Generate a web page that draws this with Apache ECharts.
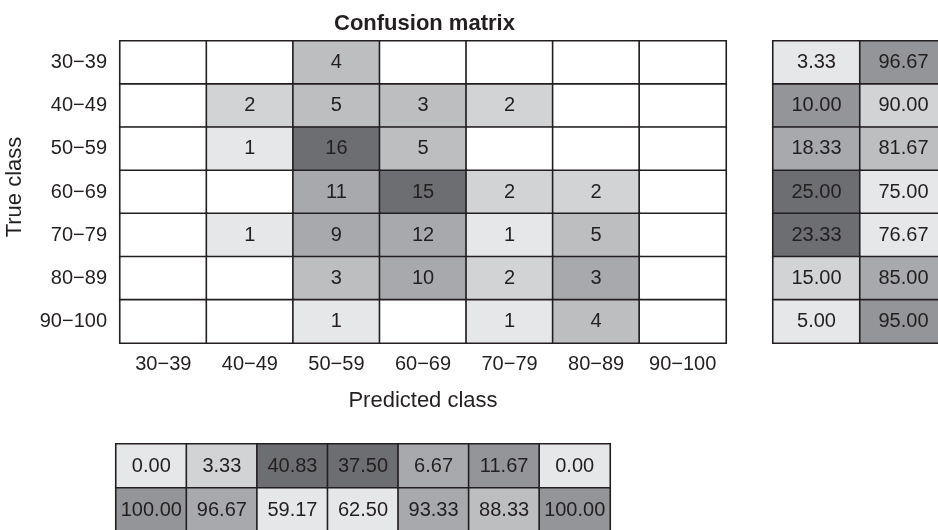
<!DOCTYPE html>
<html>
<head>
<meta charset="utf-8">
<script src="https://cdn.jsdelivr.net/npm/echarts@6/dist/echarts.min.js"></script>
<style>
html,body{margin:0;padding:0;background:#fff;}
#chart{width:938px;height:530px;}
</style>
</head>
<body>
<div id="chart"></div>
<script>
// ---- data ----
var classes = ['30−39','40−49','50−59','60−69','70−79','80−89','90−100'];
// rows = true class, columns = predicted class
var counts = [
  [0,0,4,0,0,0,0],
  [0,2,5,3,2,0,0],
  [0,1,16,5,0,0,0],
  [0,0,11,15,2,2,0],
  [0,1,9,12,1,5,0],
  [0,0,3,10,2,3,0],
  [0,0,1,0,1,4,0]
];
var rowShare = [3.33,10.00,18.33,25.00,23.33,15.00,5.00];
var rowRest  = [96.67,90.00,81.67,75.00,76.67,85.00,95.00];
var colShare = [0.00,3.33,40.83,37.50,6.67,11.67,0.00];
var colRest  = [100.00,96.67,59.17,62.50,93.33,88.33,100.00];

// ---- styles (shade level per cell) ----
var palette = ['#ffffff','#e6e7e8','#d1d3d4','#bcbec0','#a7a9ac','#939598','#6d6e71'];
var countShade = [
  [0,0,3,0,0,0,0],
  [0,2,3,3,2,0,0],
  [0,1,6,3,0,0,0],
  [0,0,4,6,2,2,0],
  [0,1,4,4,1,3,0],
  [0,0,3,4,2,4,0],
  [0,0,1,0,1,3,0]
];
var rowShade = [[1,5],[5,2],[4,3],[6,1],[6,1],[2,4],[1,5]];
var colShade = [[1,2,6,6,4,5,1],[5,4,1,1,4,3,5]];

var FONT = '"Liberation Sans", Arial, Helvetica, sans-serif';
var INK = '#231f20';

var mainData = [];
counts.forEach(function(row, r){
  row.forEach(function(v, c){
    mainData.push({value:[c, r, v], itemStyle:{color: palette[countShade[r][c]]}});
  });
});
var rightData = [];
rowShare.forEach(function(v, r){
  rightData.push({value:[0, r, v], itemStyle:{color: palette[rowShade[r][0]]}});
  rightData.push({value:[1, r, rowRest[r]], itemStyle:{color: palette[rowShade[r][1]]}});
});
var bottomData = [];
colShare.forEach(function(v, c){
  bottomData.push({value:[c, 0, v], itemStyle:{color: palette[colShade[0][c]]}});
  bottomData.push({value:[c, 1, colRest[c]], itemStyle:{color: palette[colShade[1][c]]}});
});

var cellItem = {borderColor: INK, borderWidth: 1.6};
var labelBase = {show:true, color: INK, fontSize: 20, fontFamily: FONT};
var hiddenAxis = function(type, data, extra){
  var a = {type:'category', data:data, show:false};
  for (var k in extra) a[k] = extra[k];
  return a;
};

var chart = echarts.init(document.getElementById('chart'), null, {renderer:'canvas'});
chart.setOption({
  animation: false,
  backgroundColor: '#ffffff',
  title: {
    text: 'Confusion matrix',
    left: 329, top: 8,
    textStyle: {fontFamily: FONT, fontSize: 22, fontWeight: 'bold', color: INK}
  },
  grid: [
    {left: 120, top: 41, width: 606, height: 302, outerBoundsMode: 'none', containLabel: false},
    {left: 773, top: 41, width: 174, height: 302, outerBoundsMode: 'none', containLabel: false},
    {left: 116, top: 444, width: 494, height: 88, outerBoundsMode: 'none', containLabel: false}
  ],
  xAxis: [
    {type:'category', gridIndex:0, data: classes,
     axisLine:{show:false}, axisTick:{show:false}, splitLine:{show:false},
     axisLabel:{color: INK, fontSize: 20, fontFamily: FONT, margin: 11, interval: 0},
     name: 'Predicted class', nameLocation:'middle', nameGap: 47,
     nameTextStyle:{color: INK, fontSize: 22, fontFamily: FONT}},
    hiddenAxis('category', ['share','rest'], {gridIndex:1}),
    hiddenAxis('category', classes, {gridIndex:2})
  ],
  yAxis: [
    {type:'category', gridIndex:0, data: classes, inverse: true,
     axisLine:{show:false}, axisTick:{show:false}, splitLine:{show:false},
     axisLabel:{color: INK, fontSize: 20, fontFamily: FONT, margin: 13, interval: 0},
     name: 'True class', nameLocation:'middle', nameGap: 94, nameRotate: 90,
     nameTextStyle:{color: INK, fontSize: 22, fontFamily: FONT, padding:[0,0,0,10]}},
    hiddenAxis('category', classes, {gridIndex:1, inverse:true}),
    hiddenAxis('category', ['share','rest'], {gridIndex:2, inverse:true})
  ],
  series: [
    {type:'heatmap', xAxisIndex:0, yAxisIndex:0, data: mainData,
     itemStyle: cellItem,
     label: Object.assign({}, labelBase, {formatter: function(p){ return p.value[2] > 0 ? String(p.value[2]) : ''; }}),
     emphasis:{disabled:true}},
    {type:'heatmap', xAxisIndex:1, yAxisIndex:1, data: rightData,
     itemStyle: cellItem,
     label: Object.assign({}, labelBase, {formatter: function(p){ return p.value[2].toFixed(2); }}),
     emphasis:{disabled:true}},
    {type:'heatmap', xAxisIndex:2, yAxisIndex:2, data: bottomData,
     itemStyle: cellItem,
     label: Object.assign({}, labelBase, {formatter: function(p){ return p.value[2].toFixed(2); }}),
     emphasis:{disabled:true}}
  ]
});
</script>
</body>
</html>
